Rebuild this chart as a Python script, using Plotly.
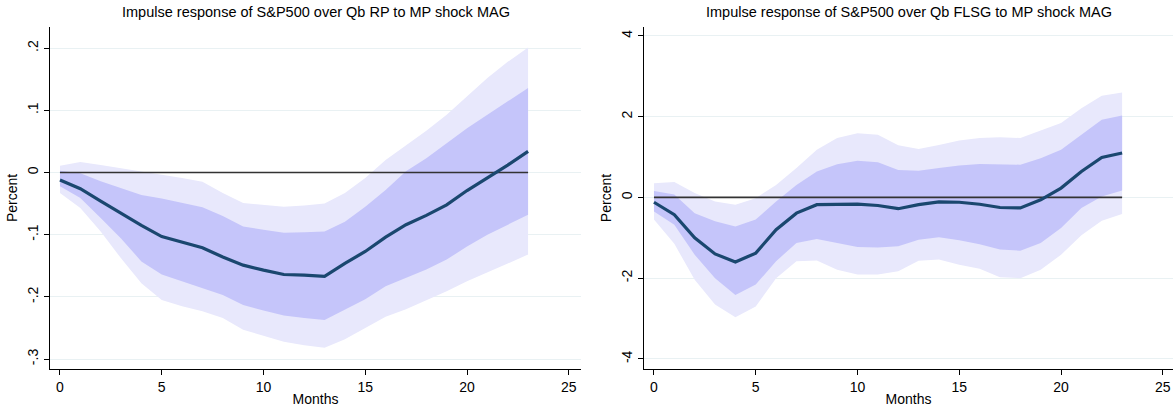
import plotly.graph_objects as go

horizon = list(range(24))

# Left panel: S&P500 over Qb RP
rp_irf = [-0.012, -0.026, -0.046, -0.066, -0.085, -0.103, -0.112, -0.121, -0.136, -0.149,
          -0.157, -0.164, -0.165, -0.167, -0.146, -0.127, -0.104, -0.084, -0.069, -0.052,
          -0.029, -0.009, 0.012, 0.034]
rp_in_hi = [0.003, -0.001, -0.014, -0.025, -0.036, -0.042, -0.049, -0.056, -0.070, -0.087,
            -0.092, -0.097, -0.096, -0.095, -0.079, -0.055, -0.028, 0.002, 0.023, 0.047,
            0.071, 0.093, 0.114, 0.136]
rp_in_lo = [-0.022, -0.041, -0.073, -0.106, -0.143, -0.164, -0.175, -0.186, -0.197, -0.213,
            -0.222, -0.230, -0.234, -0.237, -0.220, -0.204, -0.183, -0.170, -0.156, -0.140,
            -0.119, -0.100, -0.084, -0.068]
rp_out_hi = [0.011, 0.017, 0.012, 0.007, 0.002, -0.004, -0.009, -0.015, -0.033, -0.049,
             -0.052, -0.055, -0.053, -0.050, -0.033, -0.009, 0.020, 0.044, 0.067, 0.093,
             0.122, 0.152, 0.178, 0.201]
rp_out_lo = [-0.033, -0.057, -0.095, -0.138, -0.178, -0.205, -0.215, -0.223, -0.234, -0.253,
             -0.263, -0.272, -0.278, -0.282, -0.268, -0.250, -0.232, -0.220, -0.206, -0.191,
             -0.175, -0.161, -0.146, -0.132]

# Right panel: S&P500 over Qb FLSG
fl_irf = [-0.12, -0.43, -1.00, -1.40, -1.60, -1.38, -0.80, -0.39, -0.18, -0.165,
          -0.165, -0.20, -0.28, -0.18, -0.11, -0.12, -0.17, -0.25, -0.26, -0.06,
          0.23, 0.64, 0.99, 1.10]
fl_in_hi = [0.16, 0.07, -0.39, -0.59, -0.72, -0.55, -0.10, 0.31, 0.64, 0.82,
            0.91, 0.87, 0.68, 0.66, 0.73, 0.79, 0.83, 0.82, 0.81, 0.97,
            1.18, 1.55, 1.92, 2.03]
fl_in_lo = [-0.35, -0.68, -1.42, -2.00, -2.42, -2.16, -1.58, -1.13, -1.03, -1.13,
            -1.23, -1.24, -1.21, -1.05, -0.99, -1.06, -1.16, -1.29, -1.32, -1.13,
            -0.76, -0.26, 0.02, 0.17]
fl_out_hi = [0.35, 0.38, 0.11, -0.10, -0.18, -0.02, 0.31, 0.73, 1.18, 1.47,
             1.59, 1.55, 1.29, 1.20, 1.30, 1.41, 1.47, 1.49, 1.47, 1.65,
             1.84, 2.21, 2.52, 2.60]
fl_out_lo = [-0.55, -1.15, -2.04, -2.65, -2.97, -2.70, -2.00, -1.58, -1.56, -1.79,
             -1.91, -1.91, -1.83, -1.57, -1.54, -1.67, -1.77, -1.98, -2.00, -1.79,
             -1.42, -0.94, -0.58, -0.41]

titles = ["Impulse response of S&P500 over Qb RP to MP shock MAG",
          "Impulse response of S&P500 over Qb FLSG to MP shock MAG"]
x_ticks = [0, 5, 10, 15, 20, 25]
y_ticks_left = [-0.3, -0.2, -0.1, 0, 0.1, 0.2]
y_ticklabels_left = ["-.3", "-.2", "-.1", "0", ".1", ".2"]
y_ticks_right = [-4, -2, 0, 2, 4]
y_ticklabels_right = ["-4", "-2", "0", "2", "4"]

OUTER = "rgba(232,232,252,1)"
INNER = "rgba(197,197,250,1)"
LINE = "#1a476f"
FONT = "Liberation Sans, Arial, Helvetica, sans-serif"

fig = go.Figure()

panels = [
    (rp_irf, rp_in_hi, rp_in_lo, rp_out_hi, rp_out_lo, "x", "y"),
    (fl_irf, fl_in_hi, fl_in_lo, fl_out_hi, fl_out_lo, "x2", "y2"),
]

for irf, ihi, ilo, ohi, olo, xa, ya in panels:
    xs = horizon + horizon[::-1]
    fig.add_trace(go.Scatter(x=xs, y=ohi + olo[::-1], fill="toself", fillcolor=OUTER,
                             line=dict(width=0), mode="lines", xaxis=xa, yaxis=ya,
                             showlegend=False, hoverinfo="skip"))
    fig.add_trace(go.Scatter(x=xs, y=ihi + ilo[::-1], fill="toself", fillcolor=INNER,
                             line=dict(width=0), mode="lines", xaxis=xa, yaxis=ya,
                             showlegend=False, hoverinfo="skip"))
    fig.add_trace(go.Scatter(x=[horizon[0], horizon[-1]], y=[0, 0], mode="lines",
                             line=dict(color="#333333", width=1.6), xaxis=xa, yaxis=ya,
                             showlegend=False))
    fig.add_trace(go.Scatter(x=horizon, y=irf, mode="lines",
                             line=dict(color=LINE, width=3.2), xaxis=xa, yaxis=ya,
                             showlegend=False))

W, H = 1175, 408
ml, mr, mt, mb = 50, 2, 27, 39
pw = W - ml - mr
def dom(a, b):
    return [(a - ml) / pw, (b - ml) / pw]

d1 = dom(50, 581)
d2 = dom(644, 1173)

xcommon = dict(range=[-0.49, 25.6], tickvals=x_ticks, ticks="outside", ticklen=5,
               tickcolor="black", showline=True, linecolor="black", linewidth=1,
               showgrid=False, zeroline=False, tickfont=dict(size=14, color="black"),
               title=dict(text="Months", font=dict(size=14, color="black"), standoff=0))
ycommon = dict(ticks="outside", ticklen=5, tickcolor="black", showline=True,
               linecolor="black", linewidth=1, showgrid=True, gridcolor="#e9f1f3",
               gridwidth=1, zeroline=False, tickangle=-90,
               tickfont=dict(size=14, color="black"),
               title=dict(text="Percent", font=dict(size=14, color="black"), standoff=4))

fig.update_layout(
    width=W, height=H,
    margin=dict(l=ml, r=mr, t=mt, b=mb),
    paper_bgcolor="white", plot_bgcolor="white",
    font=dict(family=FONT, color="black"),
    xaxis=dict(domain=d1, anchor="y", **xcommon),
    yaxis=dict(domain=[0, 1], anchor="x", range=[-0.316, 0.234],
               tickvals=y_ticks_left, ticktext=y_ticklabels_left, **ycommon),
    xaxis2=dict(domain=d2, anchor="y2", **{**xcommon, "range": [-0.49, 25.5]}),
    yaxis2=dict(domain=[0, 1], anchor="x2", range=[-4.25, 4.22],
                tickvals=y_ticks_right, ticktext=y_ticklabels_right, **ycommon),
    annotations=[
        dict(text=titles[0], x=(d1[0] + d1[1]) / 2, y=1, xref="paper", xanchor="center",
             yref="paper", yanchor="bottom", yshift=5, showarrow=False,
             font=dict(size=14.5, color="black")),
        dict(text=titles[1], x=(d2[0] + d2[1]) / 2, y=1, xref="paper", xanchor="center",
             yref="paper", yanchor="bottom", yshift=5, showarrow=False,
             font=dict(size=14.5, color="black")),
    ],
)

fig.write_html("out.html")
